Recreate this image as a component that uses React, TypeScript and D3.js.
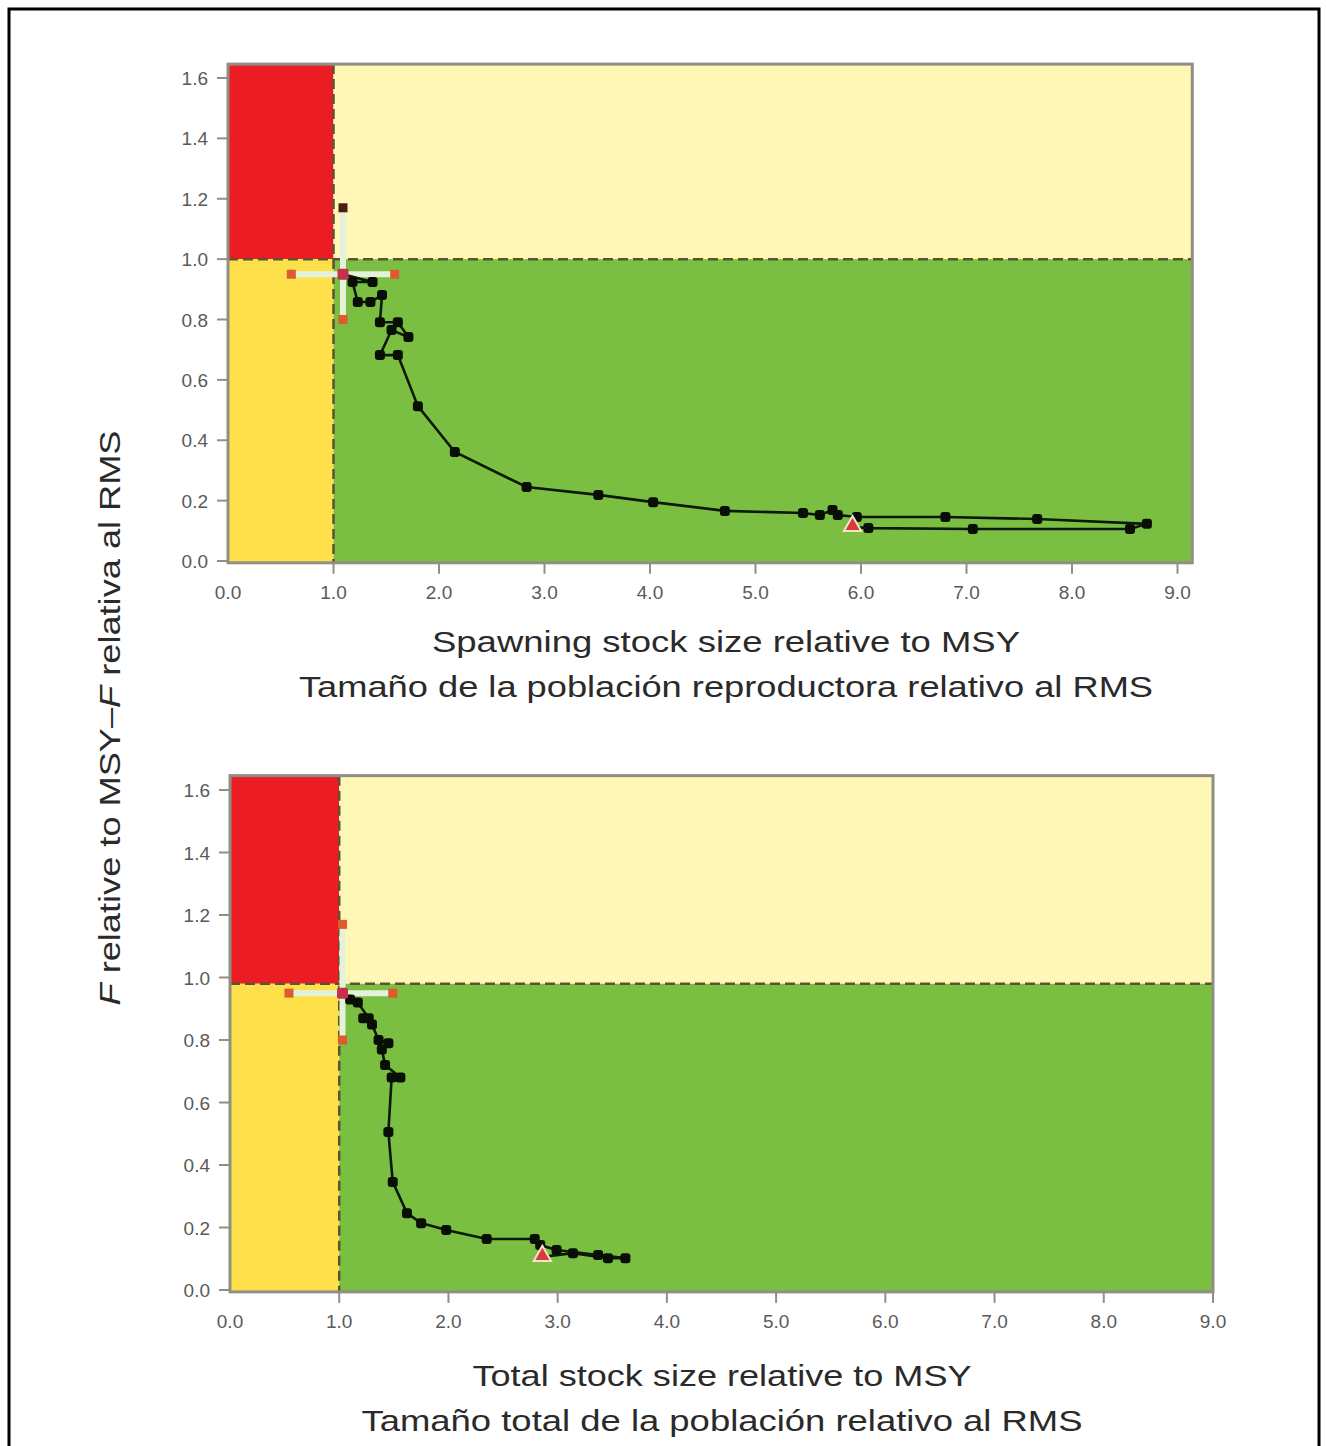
import React from "react";
import * as d3 from "d3";

// ---------- DATA ----------
const xTicks = [0, 1, 2, 3, 4, 5, 6, 7, 8, 9];
const yTicks = [0, 0.2, 0.4, 0.6, 0.8, 1.0, 1.2, 1.4, 1.6];

// Spawning stock trajectory (first point = triangle, last = current)
const spawnX = [5.92, 6.07, 7.06, 8.55, 8.71, 7.67, 6.80, 5.96, 5.78, 5.73, 5.61, 5.45, 4.71, 4.03, 3.51, 2.83, 2.15, 1.80, 1.61, 1.44, 1.55, 1.71, 1.61, 1.44, 1.46, 1.35, 1.23, 1.18, 1.37, 1.09];
const spawnF = [0.113, 0.109, 0.106, 0.106, 0.123, 0.139, 0.146, 0.146, 0.152, 0.169, 0.152, 0.159, 0.166, 0.195, 0.219, 0.245, 0.361, 0.513, 0.682, 0.682, 0.765, 0.742, 0.791, 0.791, 0.881, 0.858, 0.858, 0.924, 0.924, 0.950];
const spawnErrX = [0.60, 1.58];
const spawnErrF = [0.80, 1.17];
const spawnLimitF = 1.0;

// Total stock trajectory
const totalX = [2.86, 3.14, 3.46, 3.62, 3.37, 2.99, 2.84, 2.79, 2.35, 1.98, 1.75, 1.62, 1.49, 1.45, 1.48, 1.56, 1.42, 1.39, 1.45, 1.36, 1.30, 1.22, 1.27, 1.17, 1.10, 1.03];
const totalF = [0.106, 0.118, 0.102, 0.102, 0.112, 0.128, 0.144, 0.163, 0.163, 0.192, 0.214, 0.246, 0.346, 0.506, 0.680, 0.680, 0.720, 0.770, 0.790, 0.800, 0.850, 0.870, 0.870, 0.920, 0.930, 0.950];
const totalErrX = [0.54, 1.49];
const totalErrF = [0.80, 1.17];
const totalLimitF = 0.98;

const xTitleTop = ["Spawning stock size relative to MSY", "Tamaño de la población reproductora relativo al RMS"];
const xTitleBottom = ["Total stock size relative to MSY", "Tamaño total de la población relativo al RMS"];

// ---------- STYLE ----------
const C = {
  red: "#ec1c24",
  lightYellow: "#fff7b6",
  gold: "#fee14a",
  green: "#7abf42",
  dash: "#5e5230",
  frame: "#8f8f86",
  tickText: "#5a5a5a",
  title: "#2a2a2a",
  errBar: "#e4f2dc",
  errEnd: "#df5a2c",
  center: "#c42f4a",
};
const FONT = "'Liberation Sans', Arial, sans-serif";

type PanelProps = {
  xs: number[];
  fs: number[];
  errX: number[];
  errF: number[];
  limitF: number;
  titles: string[];
  titleLayout: { y: number; w: number }[];
  titleCx: number;
  xRange: [number, number];
  yRange: [number, number];
  xMaxBox: number;
  topDark: boolean;
};

function Panel(p: PanelProps) {
  const x = d3.scaleLinear().domain([0, 9]).range(p.xRange);
  const y = d3.scaleLinear().domain([0, 1.6]).range(p.yRange);
  const left = x(0);
  const right = x(p.xMaxBox);
  const top = y(1.646);
  const bottom = y(-0.006);
  const vx = x(1);
  const hy = y(p.limitF);
  const pts = p.xs.map((v, i) => [v, p.fs[i]] as [number, number]);
  const line = d3.line<[number, number]>().x((d) => x(d[0])).y((d) => y(d[1]));
  const last = pts[pts.length - 1];
  const first = pts[0];
  const tri = d3.symbol().type(d3.symbolTriangle).size(130)();
  const ms = 10;
  return (
    <g>
      <rect x={left} y={top} width={vx - left} height={hy - top} fill={C.red} />
      <rect x={vx} y={top} width={right - vx} height={hy - top} fill={C.lightYellow} />
      <rect x={left} y={hy} width={vx - left} height={bottom - hy} fill={C.gold} />
      <rect x={vx} y={hy} width={right - vx} height={bottom - hy} fill={C.green} />
      <line x1={left} x2={right} y1={hy} y2={hy} stroke={C.dash} strokeWidth={2.5} strokeDasharray="10 5" />
      <line x1={vx} x2={vx} y1={top} y2={bottom} stroke={C.dash} strokeWidth={2.5} strokeDasharray="10 5" />
      <rect x={left} y={top} width={right - left} height={bottom - top} fill="none" stroke={C.frame} strokeWidth={3} />
      {/* ticks */}
      {yTicks.map((t) => (
        <g key={"y" + t}>
          <line x1={left - 11} x2={left} y1={y(t)} y2={y(t)} stroke={C.frame} strokeWidth={2} />
          <text x={left - 20} y={y(t) + 7} textAnchor="end" fontSize={19} fill={C.tickText} fontFamily={FONT}>
            {t.toFixed(1)}
          </text>
        </g>
      ))}
      {xTicks.map((t) => (
        <g key={"x" + t}>
          {t > 0 && <line x1={x(t)} x2={x(t)} y1={bottom} y2={bottom + 11} stroke={C.frame} strokeWidth={2} />}
          <text x={x(t)} y={bottom + 36} textAnchor="middle" fontSize={19} fill={C.tickText} fontFamily={FONT}>
            {t.toFixed(1)}
          </text>
        </g>
      ))}
      {/* error bars */}
      <line x1={x(p.errX[0])} x2={x(p.errX[1])} y1={y(last[1])} y2={y(last[1])} stroke={C.errBar} strokeWidth={6} />
      <line x1={x(last[0])} x2={x(last[0])} y1={y(p.errF[0])} y2={y(p.errF[1])} stroke={C.errBar} strokeWidth={6} />
      <rect x={x(p.errX[0]) - 4.5} y={y(last[1]) - 4.5} width={9} height={9} fill={C.errEnd} />
      <rect x={x(p.errX[1]) - 4.5} y={y(last[1]) - 4.5} width={9} height={9} fill={C.errEnd} />
      <rect x={x(last[0]) - 4.5} y={y(p.errF[0]) - 4.5} width={9} height={9} fill={C.errEnd} />
      <rect x={x(last[0]) - 4.5} y={y(p.errF[1]) - 4.5} width={9} height={9} fill={p.topDark ? "#4a1e12" : C.errEnd} />
      {/* trajectory */}
      <path d={line(pts) || ""} fill="none" stroke="#0b1a06" strokeWidth={2.6} />
      {pts.slice(1, -1).map((d, i) => (
        <rect key={i} x={x(d[0]) - ms / 2} y={y(d[1]) - ms / 2} width={ms} height={ms} rx={3} fill="#0a0f06" />
      ))}
      <path d={tri || ""} transform={`translate(${x(first[0])},${y(first[1]) - 1})`} fill="#d83a3c" stroke="#f4e2c8" strokeWidth={2} />
      <rect x={x(last[0]) - 5.5} y={y(last[1]) - 5.5} width={11} height={11} rx={2} fill={C.center} />
      {/* x titles */}
      {p.titles.map((t, i) => (
        <text key={t} x={p.titleCx} y={p.titleLayout[i].y} textAnchor="middle" fontSize={30} fill={C.title} fontFamily={FONT}
          textLength={p.titleLayout[i].w} lengthAdjust="spacingAndGlyphs">
          {t}
        </text>
      ))}
    </g>
  );
}

export default function App() {
  return (
    <svg width={1326} height={1446} style={{ display: "block", position: "absolute", left: 0, top: 0, background: "#fff" }}>
      <rect x={0} y={0} width={1326} height={1446} fill="#fff" />
      <rect x={9} y={9} width={1310} height={1460} fill="none" stroke="#000" strokeWidth={3} />
      <Panel
        xs={spawnX} fs={spawnF} errX={spawnErrX} errF={spawnErrF} limitF={spawnLimitF}
        titles={xTitleTop}
        titleLayout={[{ y: 652, w: 588 }, { y: 697, w: 854 }]}
        titleCx={726}
        xRange={[228, 1177.5]} yRange={[561, 78]} xMaxBox={9.14} topDark={true}
      />
      <Panel
        xs={totalX} fs={totalF} errX={totalErrX} errF={totalErrF} limitF={totalLimitF}
        titles={xTitleBottom}
        titleLayout={[{ y: 1386, w: 499 }, { y: 1431, w: 721 }]}
        titleCx={722}
        xRange={[230, 1213]} yRange={[1290, 790]} xMaxBox={9} topDark={false}
      />
      <text transform="translate(120,718) rotate(-90)" textAnchor="middle" fontSize={30} fill={C.title} fontFamily={FONT}
        textLength={575} lengthAdjust="spacingAndGlyphs">
        <tspan fontStyle="italic">F</tspan> relative to MSY–<tspan fontStyle="italic">F</tspan> relativa al RMS
      </text>
    </svg>
  );
}
